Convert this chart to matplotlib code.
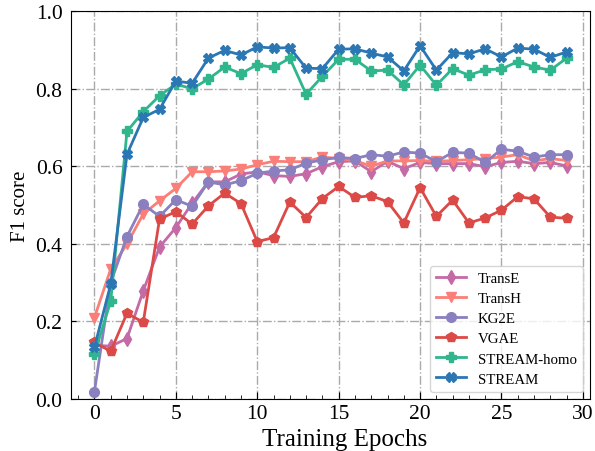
import matplotlib
matplotlib.use("Agg")
import matplotlib.pyplot as plt
from matplotlib.ticker import MultipleLocator
import numpy as np

# F1 score per training epoch
epochs = np.arange(30)

transe = [0.139, 0.136, 0.156, 0.279, 0.392, 0.442, 0.505, 0.560, 0.560, 0.580,
          0.586, 0.576, 0.574, 0.581, 0.599, 0.612, 0.614, 0.586, 0.613, 0.594,
          0.610, 0.607, 0.607, 0.607, 0.599, 0.610, 0.613, 0.607, 0.610, 0.601]
transh = [0.210, 0.335, 0.400, 0.477, 0.511, 0.543, 0.586, 0.586, 0.588, 0.593,
          0.604, 0.613, 0.612, 0.612, 0.624, 0.620, 0.615, 0.600, 0.614, 0.614,
          0.615, 0.613, 0.615, 0.617, 0.620, 0.624, 0.630, 0.614, 0.620, 0.615]
kg2e = [0.019, 0.300, 0.419, 0.502, 0.471, 0.514, 0.497, 0.560, 0.552, 0.563,
        0.582, 0.588, 0.591, 0.608, 0.617, 0.623, 0.620, 0.630, 0.626, 0.637,
        0.634, 0.612, 0.636, 0.634, 0.610, 0.644, 0.639, 0.624, 0.630, 0.630]
vgae = [0.146, 0.123, 0.221, 0.198, 0.464, 0.483, 0.451, 0.498, 0.531, 0.504,
        0.406, 0.416, 0.508, 0.468, 0.517, 0.548, 0.520, 0.524, 0.509, 0.454,
        0.545, 0.471, 0.513, 0.454, 0.467, 0.487, 0.522, 0.516, 0.469, 0.466]
stream_homo = [0.116, 0.252, 0.690, 0.741, 0.782, 0.812, 0.800, 0.825, 0.856, 0.839,
               0.862, 0.855, 0.879, 0.786, 0.832, 0.876, 0.876, 0.846, 0.848, 0.810,
               0.861, 0.809, 0.852, 0.835, 0.849, 0.851, 0.870, 0.856, 0.848, 0.879]
stream = [0.133, 0.296, 0.631, 0.726, 0.747, 0.820, 0.814, 0.879, 0.899, 0.887,
          0.908, 0.905, 0.906, 0.853, 0.852, 0.902, 0.903, 0.892, 0.882, 0.846,
          0.911, 0.848, 0.893, 0.890, 0.903, 0.882, 0.905, 0.902, 0.881, 0.895]

SERIES = [
    ("TransE", transe, "#C46AA6", "d"),
    ("TransH", transh, "#FA7F78", "v"),
    ("KG2E", kg2e, "#8A80C0", "o"),
    ("VGAE", vgae, "#DB4A46", "p"),
    ("STREAM-homo", stream_homo, "#2FB68C", "P"),
    ("STREAM", stream, "#2A77B4", "X"),
]

plt.rcParams["font.family"] = ["Liberation Serif", "DejaVu Serif"]

fig = plt.figure(figsize=(5.95, 4.52), dpi=100)
ax = fig.add_axes([0.119, 0.115, 0.873, 0.858])

for name, vals, color, marker in SERIES:
    ax.plot(epochs, vals, color=color, marker=marker, markersize=7,
            linewidth=2, label=name)

ax.set_ylim(0, 1.0)
ax.xaxis.set_major_locator(MultipleLocator(5))
ax.xaxis.set_minor_locator(MultipleLocator(1))
ax.yaxis.set_major_locator(MultipleLocator(0.2))
ax.tick_params(axis="both", which="both", direction="in", labelsize=15.5)
ax.tick_params(axis="y", which="major", pad=6)
ax.tick_params(axis="x", which="major", length=5)
ax.tick_params(axis="x", which="minor", length=3)
ax.set_xlabel("Training Epochs", fontsize=18)
ax.xaxis.set_label_coords(0.528, -0.118, transform=ax.transAxes)
ax.xaxis.label.set_va("baseline")
ax.set_ylabel("F1 score", fontsize=15)
ax.grid(True, linestyle="-.", color="#AAAAAA", linewidth=1)

ax.legend(loc="lower right", fontsize=10.7, frameon=True, fancybox=True,
          edgecolor="#CCCCCC", handlelength=2.0, labelspacing=0.45,
          borderaxespad=0.5)

fig.savefig("out.png", dpi=100)
